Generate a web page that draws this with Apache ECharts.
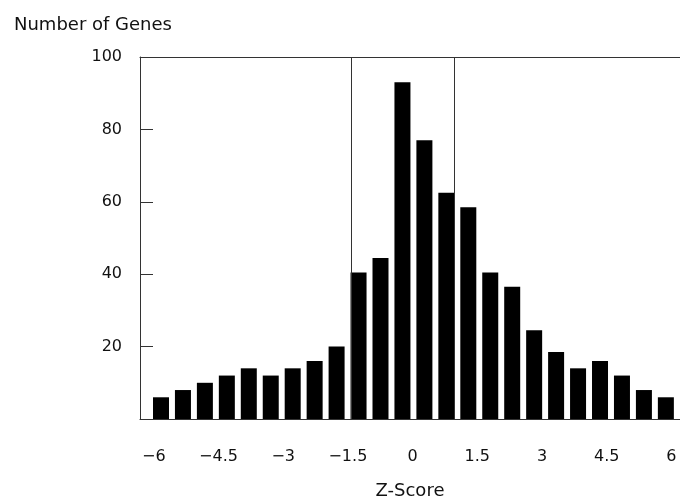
<!DOCTYPE html>
<html>
<head>
<meta charset="utf-8">
<script src="https://cdn.jsdelivr.net/npm/echarts@6/dist/echarts.min.js"></script>
<style>
html,body{margin:0;padding:0;background:#fff;}
#chart{width:680px;height:502px;}
</style>
</head>
<body>
<div id="chart"></div>
<script>
// Bin centres (Z-score, bins of width 0.5) and gene counts
const binCenters = [-5.75, -5.25, -4.75, -4.25, -3.75, -3.25, -2.75, -2.25, -1.75, -1.25, -0.75, -0.25,
                    0.25, 0.75, 1.25, 1.75, 2.25, 2.75, 3.25, 3.75, 4.25, 4.75, 5.25, 5.75];
const counts = [6, 8, 10, 12, 14, 12, 14, 16, 20, 40.5, 44.5, 93,
                77, 62.5, 58.5, 40.5, 36.5, 24.5, 18.5, 14, 16, 12, 8, 6];
const xTickLabels = [-6, -4.5, -3, -1.5, 0, 1.5, 3, 4.5, 6];
const yTicks = [0, 20, 40, 60, 80, 100];
const thresholds = [-1.42, 0.92];

const FONT = 'DejaVu Sans';
const lineCol = '#333';
const chart = echarts.init(document.getElementById('chart'), null, {renderer: 'canvas'});

const option = {
  animation: false,
  backgroundColor: '#ffffff',
  title: {
    text: 'Number of Genes',
    left: 9,
    top: 11,
    textStyle: {fontFamily: FONT, fontSize: 18, fontWeight: 'normal', color: '#111'}
  },
  grid: {left: 140, right: 0, top: 57, bottom: 83, containLabel: false, outerBoundsMode: 'none'},
  xAxis: [
    {
      // scale of the histogram bins (drawn as top border)
      type: 'value',
      position: 'top',
      min: -6.228,
      max: 6.072,
      axisLine: {show: true, onZero: false, lineStyle: {color: lineCol, width: 1}},
      axisTick: {show: false},
      axisLabel: {show: false},
      splitLine: {show: false}
    },
    {
      // labelled Z-score axis
      type: 'value',
      position: 'bottom',
      min: -6.32,
      max: 6.2,
      name: 'Z-Score',
      nameLocation: 'middle',
      nameGap: 63,
      nameTextStyle: {fontFamily: FONT, fontSize: 18, color: '#111'},
      axisLine: {show: true, onZero: false, lineStyle: {color: lineCol, width: 1}},
      axisTick: {show: false},
      axisLabel: {
        customValues: xTickLabels,
        margin: 30,
        fontFamily: FONT,
        fontSize: 16,
        color: '#111',
        formatter: v => String(v).replace('-', '\u2212')
      },
      splitLine: {show: false}
    }
  ],
  yAxis: {
    type: 'value',
    position: 'left',
    min: yTicks[0],
    max: yTicks[yTicks.length - 1],
    interval: 20,
    axisLine: {show: true, onZero: false, lineStyle: {color: lineCol, width: 1}},
    axisTick: {show: true, inside: true, length: 13, lineStyle: {color: lineCol, width: 1}},
    axisLabel: {showMinLabel: false, margin: 18, fontFamily: FONT, fontSize: 16, color: '#111'},
    splitLine: {show: false}
  },
  series: [{
    type: 'bar',
    xAxisIndex: 0,
    barWidth: 16,
    itemStyle: {color: '#000'},
    data: binCenters.map((c, i) => [c, counts[i]]),
    markLine: {
      silent: true,
      symbol: 'none',
      label: {show: false},
      lineStyle: {color: lineCol, width: 1, type: 'solid'},
      data: thresholds.map(t => ({xAxis: t}))
    }
  }]
};
chart.setOption(option);
</script>
</body>
</html>
